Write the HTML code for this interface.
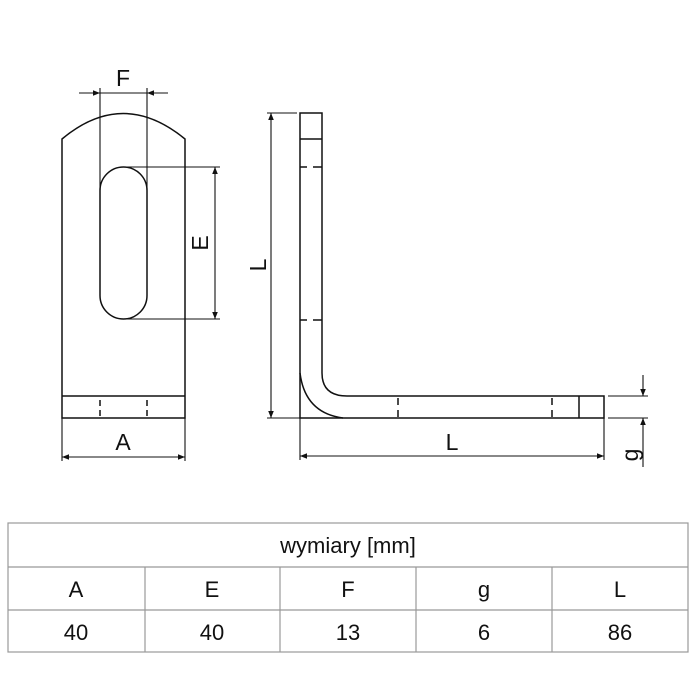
<!DOCTYPE html>
<html><head><style>
html,body{margin:0;padding:0;background:#fff;}
svg{display:block;}
text{font-family:"Liberation Sans",sans-serif;fill:#111;}
</style></head><body>
<svg width="696" height="696" viewBox="0 0 696 696" xmlns="http://www.w3.org/2000/svg">
<defs>
<marker id="ar" viewBox="0 0 10 10" refX="10" refY="5" markerWidth="12" markerHeight="7" markerUnits="userSpaceOnUse" orient="auto"><path d="M0,1 L10,5 L0,9 z" fill="#111"/></marker>
</defs>
<g stroke="#111" stroke-width="1.5" fill="none">
<path d="M62,418 L62,139 Q123,88 185,139 L185,418 Z"/>
<line x1="62" y1="396" x2="185" y2="396"/>
<rect x="100" y="167" width="47" height="152" rx="23.5"/>
<line x1="100" y1="400" x2="100" y2="406"/><line x1="100" y1="410" x2="100" y2="416"/>
<line x1="147" y1="400" x2="147" y2="406"/><line x1="147" y1="410" x2="147" y2="416"/>
<line x1="100" y1="88" x2="100" y2="190" stroke-width="1.1"/>
<line x1="147" y1="88" x2="147" y2="190" stroke-width="1.1"/>
<line x1="79" y1="93" x2="100" y2="93" marker-end="url(#ar)" stroke-width="1.1"/>
<line x1="168" y1="93" x2="147" y2="93" marker-end="url(#ar)" stroke-width="1.1"/>
<line x1="100" y1="93" x2="147" y2="93" stroke-width="1.1"/>
<line x1="123" y1="167" x2="220" y2="167" stroke-width="1.1"/>
<line x1="123" y1="319" x2="220" y2="319" stroke-width="1.1"/>
<line x1="215" y1="243" x2="215" y2="167" marker-end="url(#ar)" stroke-width="1.1"/>
<line x1="215" y1="243" x2="215" y2="319" marker-end="url(#ar)" stroke-width="1.1"/>
<line x1="62" y1="418" x2="62" y2="461" stroke-width="1.1"/>
<line x1="185" y1="418" x2="185" y2="461" stroke-width="1.1"/>
<line x1="123" y1="457" x2="62" y2="457" marker-end="url(#ar)" stroke-width="1.1"/>
<line x1="123" y1="457" x2="185" y2="457" marker-end="url(#ar)" stroke-width="1.1"/>
<path d="M300,418 L300,113 L322,113 L322,373 Q322,396 347,396 L604,396 L604,418 Z"/>
<path d="M300,373 Q305,413 343,418"/>
<line x1="300" y1="139" x2="322" y2="139"/>
<line x1="300" y1="167" x2="307" y2="167"/><line x1="313" y1="167" x2="322" y2="167"/>
<line x1="300" y1="320" x2="307" y2="320"/><line x1="313" y1="320" x2="322" y2="320"/>
<line x1="579" y1="396" x2="579" y2="418"/>
<line x1="398" y1="398" x2="398" y2="405"/><line x1="398" y1="410" x2="398" y2="417"/>
<line x1="552" y1="398" x2="552" y2="405"/><line x1="552" y1="410" x2="552" y2="417"/>
<line x1="267" y1="113" x2="297" y2="113" stroke-width="1.1"/>
<line x1="267" y1="418" x2="300" y2="418" stroke-width="1.1"/>
<line x1="271" y1="265" x2="271" y2="113" marker-end="url(#ar)" stroke-width="1.1"/>
<line x1="271" y1="265" x2="271" y2="418" marker-end="url(#ar)" stroke-width="1.1"/>
<line x1="300" y1="418" x2="300" y2="460" stroke-width="1.1"/>
<line x1="604" y1="418" x2="604" y2="460" stroke-width="1.1"/>
<line x1="452" y1="456" x2="300" y2="456" marker-end="url(#ar)" stroke-width="1.1"/>
<line x1="452" y1="456" x2="604" y2="456" marker-end="url(#ar)" stroke-width="1.1"/>
<line x1="608" y1="396" x2="648" y2="396" stroke-width="1.1"/>
<line x1="608" y1="418" x2="648" y2="418" stroke-width="1.1"/>
<line x1="643" y1="375" x2="643" y2="396" marker-end="url(#ar)" stroke-width="1.1"/>
<line x1="643" y1="467" x2="643" y2="418" marker-end="url(#ar)" stroke-width="1.1"/>
</g>
<text x="123" y="86" font-size="23" text-anchor="middle">F</text>
<text x="123" y="450" font-size="23" text-anchor="middle">A</text>
<text x="452" y="450" font-size="23" text-anchor="middle">L</text>
<text transform="translate(208,243) rotate(-90)" font-size="23" text-anchor="middle">E</text>
<text transform="translate(266,265) rotate(-90)" font-size="23" text-anchor="middle">L</text>
<text transform="translate(638,455) rotate(-90)" font-size="23" text-anchor="middle">g</text>
<g stroke="#999" stroke-width="1.2" fill="none">
<rect x="8" y="523" width="680" height="129"/>
<line x1="8" y1="567" x2="688" y2="567"/>
<line x1="8" y1="610" x2="688" y2="610"/>
<line x1="145" y1="567" x2="145" y2="652"/>
<line x1="280" y1="567" x2="280" y2="652"/>
<line x1="416" y1="567" x2="416" y2="652"/>
<line x1="552" y1="567" x2="552" y2="652"/>
</g>
<g font-size="22" text-anchor="middle">
<text x="348" y="553">wymiary [mm]</text>
<text x="76" y="597">A</text><text x="212" y="597">E</text><text x="348" y="597">F</text><text x="484" y="597">g</text><text x="620" y="597">L</text>
<text x="76" y="640">40</text><text x="212" y="640">40</text><text x="348" y="640">13</text><text x="484" y="640">6</text><text x="620" y="640">86</text>
</g>
</svg>
</body></html>
